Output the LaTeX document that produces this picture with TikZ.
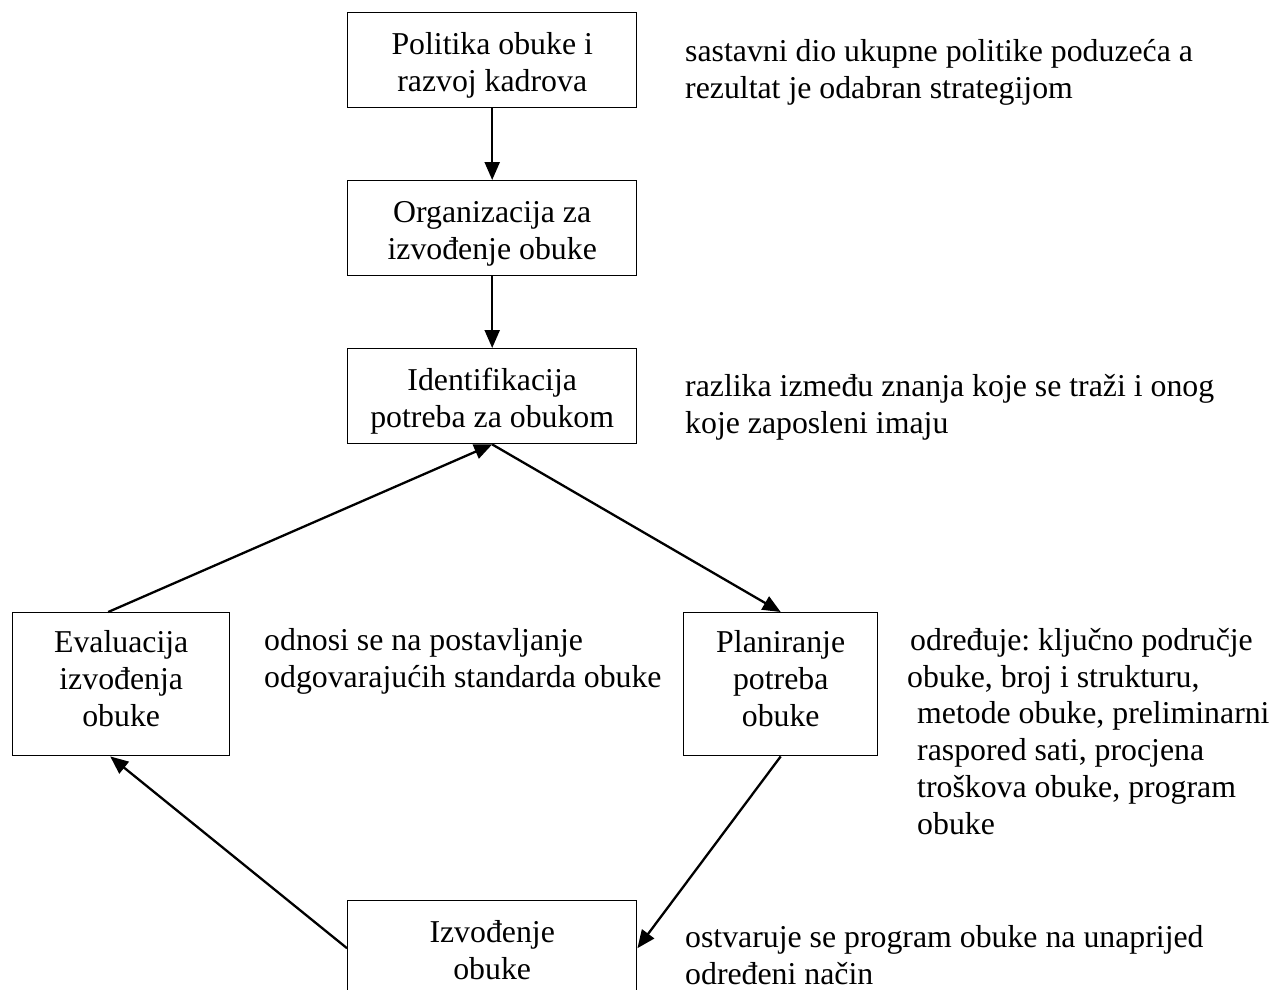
\documentclass[tikz,border=0pt]{standalone}
\usepackage{fontspec}
\setmainfont{Liberation Serif}
\usetikzlibrary{arrows.meta,calc}
\frenchspacing
\begin{document}
\begin{tikzpicture}[x=1pt,y=-1pt,
  font=\fontsize{31.8}{36.7}\selectfont,
  stage/.style={draw,line width=1.4pt,align=center,inner sep=0pt,anchor=north west},
  % the content baseline is that of the last line
  twoline/.style={stage,minimum width=289pt,text height=78.7pt,text depth=16.3pt},
  threeline/.style={stage,text height=113.4pt,text depth=29.6pt},
  note/.style={anchor=base west,align=left,inner sep=0pt},
  link/.style={line width=2.3pt,-{Triangle[length=18pt,width=15pt]}}]
\useasboundingbox (0,0) rectangle (1274,990);
\clip (0,0) rectangle (1274,990);

% process boxes
\node[twoline] (pol)   at (347,12)  {Politika obuke i\\razvoj kadrova};
\node[twoline] (org)   at (347,180) {Organizacija za\\izvođenje obuke};
\node[twoline] (ident) at (347,348) {Identifikacija\\potreba za obukom};
\node[threeline,minimum width=217pt] (eval) at (12,612)  {Evaluacija\\izvođenja\\obuke};
\node[threeline,minimum width=194pt] (plan) at (683,612) {Planiranje\\potreba\\obuke};
\node[twoline] (izv)   at (347,900) {Izvođenje\\obuke};

% explanatory notes (placed by the baseline of their last line)
\node[note] (n1) at (685,98.5)  {sastavni dio ukupne politike poduzeća a\\rezultat je odabran strategijom};
\node[note] (n2) at (685,433) {razlika između znanja koje se traži i onog\\koje zaposleni imaju};
\node[note] (n3) at (264,687.5) {odnosi se na postavljanje\\odgovarajućih standarda obuke};
\node[note] (n4) at (907,834) {\hspace*{3pt}određuje: ključno područje\\obuke, broj i strukturu,\\\hspace*{10pt}metode obuke, preliminarni\\\hspace*{10pt}raspored sati, procjena\\\hspace*{10pt}troškova obuke, program\\\hspace*{10pt}obuke};
\node[note] (n5) at (685,984) {ostvaruje se program obuke na unaprijed\\određeni način};

% cycle connectors
\coordinate (evaltop) at ($(eval.north)+(-13,0)$);
\coordinate (evalbot) at ($(eval.south)+(-11,0)$);
\draw[link] (pol.south) -- (org.north);
\draw[link] (org.south) -- (ident.north);
\draw[link] (ident.south) -- (plan.north);
\draw[link] (plan.south) -- (izv.east);
\draw[link] (izv.west) -- (evalbot);
\draw[link] (evaltop) -- (ident.south);
\end{tikzpicture}
\end{document}
